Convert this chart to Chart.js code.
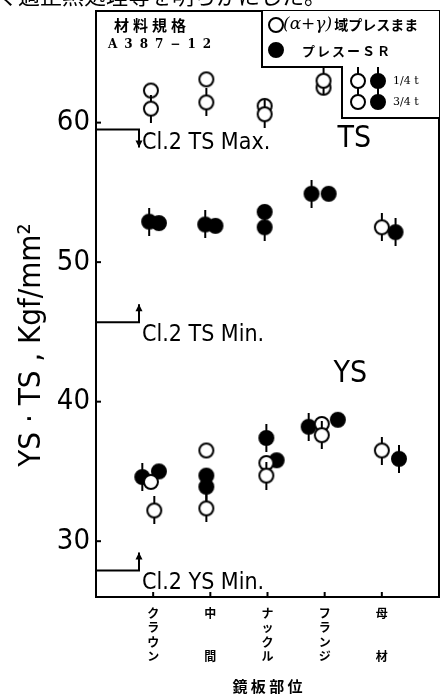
<!DOCTYPE html>
<html><head><meta charset="utf-8">
<script src="https://cdn.jsdelivr.net/npm/chart.js@4.4.0/dist/chart.umd.min.js"></script>
<style>html,body{margin:0;padding:0;background:#fff;}#wrap{width:448px;height:695px;position:relative;}</style>
</head><body><div id="wrap"><canvas id="c" width="448" height="695"></canvas></div>
<script>
// ---- data ----
const categories = ['クラウン', '中間', 'ナックル', 'フランジ', '母材'];
const xTitle = '鏡 板 部 位';
const yTitle = 'YS · TS , Kgf/mm²';
// TS (tensile strength), kgf/mm2, per category
const tsOpenQuarter   = [61.0, 61.45, 60.6, 63.0, 52.5];   // ○ (α+γ) press as-is, 1/4 t
const tsOpenThreeQ    = [62.3, 63.1, 61.2, 62.5, null];    // ○ 3/4 t
const tsFilledQuarter = [52.9, 52.7, 52.5, 54.9, 52.15];   // ● press-SR, 1/4 t
const tsFilledThreeQ  = [52.8, 52.6, 53.6, 54.9, null];    // ● 3/4 t
// YS (yield strength)
const ysOpenQuarter   = [32.2, 32.35, 34.7, 37.6, 36.5];
const ysOpenThreeQ    = [34.25, 36.5, 35.6, 38.4, null];
const ysFilledQuarter = [34.6, 33.9, 37.4, 38.2, 35.9];
const ysFilledThreeQ  = [35.0, 34.7, 35.8, 38.7, null];
// specification limits
const specLabels = ['Cl.2 TS Max.', 'Cl.2 TS Min.', 'Cl.2 YS Min.'];
const specValues = [59.5, 45.7, 27.9];
const legendLabels = ['域プレスまま', 'プレスーＳＲ'];
const legendPrefix = '(α+γ)';
const thicknessLabels = ['1/4 t', '3/4 t'];
const materialLabels = ['材料規格', 'A387−12'];
const groupLabels = ['TS', 'YS'];
const groupAt = [[4.52, 58.8], [4.45, 42.0]];
const pageText = 'く適正熱処理等を明らかにした。';

// horizontal spread of overlapping marks within a category (category units)
const jitter = {
  tsOQ: [-0.04, -0.07, -0.05, -0.02, 0],
  tsO3: [-0.04, -0.07, -0.05, -0.02, 0],
  tsFQ: [-0.07, -0.09, -0.05, -0.23, 0.24],
  tsF3: [0.10, 0.09, -0.05, 0.07, 0],
  ysOQ: [0.02, -0.07, -0.02, -0.05, 0],
  ysO3: [-0.04, -0.07, -0.02, -0.05, 0],
  ysFQ: [-0.19, -0.07, -0.02, -0.28, 0.30],
  ysF3: [0.10, -0.07, 0.16, 0.23, 0]
};

// ---- markers ----
function makeMarker(filled, stem) {
  const r = 7, s = stem ? 5 : 0, lw = 2;
  const c = document.createElement('canvas');
  const w = 2 * r + lw + 2, h = 2 * r + lw + 2 + 2 * s;
  c.width = w; c.height = h;
  const g = c.getContext('2d');
  const cx = w / 2, cy = h / 2;
  if (stem) { g.strokeStyle = '#000'; g.lineWidth = 2; g.beginPath(); g.moveTo(cx, 0); g.lineTo(cx, h); g.stroke(); }
  g.beginPath(); g.arc(cx, cy, r, 0, 2 * Math.PI);
  g.fillStyle = filled ? '#000' : '#fff'; g.fill();
  g.lineWidth = lw; g.strokeStyle = '#000'; g.stroke();
  return c;
}
const M = {
  openStem: makeMarker(false, true), open: makeMarker(false, false),
  filledStem: makeMarker(true, true), filled: makeMarker(true, false)
};

function pts(vals, jit) {
  const out = [];
  vals.forEach((v, i) => { if (v !== null) out.push({ x: i + 1 + jit[i], y: v }); });
  return out;
}
function ds(label, vals, jit, style) {
  return { label, data: pts(vals, jit), pointStyle: style, pointRadius: 8, pointHoverRadius: 8, showLine: false };
}
const datasets = [
  ds('TS ○ 1/4t', tsOpenQuarter, jitter.tsOQ, M.openStem),
  ds('TS ○ 3/4t', tsOpenThreeQ, jitter.tsO3, M.open),
  ds('TS ● 1/4t', tsFilledQuarter, jitter.tsFQ, M.filledStem),
  ds('TS ● 3/4t', tsFilledThreeQ, jitter.tsF3, M.filled),
  ds('YS ○ 1/4t', ysOpenQuarter, jitter.ysOQ, M.openStem),
  ds('YS ○ 3/4t', ysOpenThreeQ, jitter.ysO3, M.open),
  ds('YS ● 1/4t', ysFilledQuarter, jitter.ysFQ, M.filledStem),
  ds('YS ● 3/4t', ysFilledThreeQ, jitter.ysF3, M.filled)
];

function vertical(s) {
  const ch = Array.from(s);
  if (ch.length === 2) return [ch[0], '', '', ch[1]];
  return ch;
}

const COND = '"DejaVu Sans Condensed", "Liberation Sans Narrow", "DejaVu Sans", sans-serif';
const CJK = '"Noto Sans CJK JP", sans-serif';

const deco = {
  id: 'deco',
  beforeDraw(chart) {
    const { ctx } = chart;
    ctx.save(); ctx.fillStyle = '#fff'; ctx.fillRect(0, 0, chart.width, chart.height); ctx.restore();
  },
  afterDraw(chart) {
    const { ctx, chartArea: a, scales: { x, y } } = chart;
    ctx.save();
    ctx.strokeStyle = '#000'; ctx.fillStyle = '#000'; ctx.lineWidth = 2;
    // top & right frame
    ctx.beginPath(); ctx.moveTo(a.left, a.top); ctx.lineTo(a.right, a.top); ctx.lineTo(a.right, a.bottom); ctx.stroke();
    // inner tick marks
    y.ticks.forEach(t => { const py = y.getPixelForValue(t.value); ctx.beginPath(); ctx.moveTo(a.left, py); ctx.lineTo(a.left + 5, py); ctx.stroke(); });
    x.ticks.forEach(t => { if (t.value < 1 || t.value > categories.length) return; const px = x.getPixelForValue(t.value); ctx.beginPath(); ctx.moveTo(px, a.bottom); ctx.lineTo(px, a.bottom - 5); ctx.stroke(); });
    // spec lines
    specValues.forEach((v, i) => {
      const py = y.getPixelForValue(v);
      const ax = a.left + 43;
      const down = i === 0;
      ctx.lineWidth = 2;
      ctx.beginPath(); ctx.moveTo(a.left, py); ctx.lineTo(ax, py);
      const tip = down ? py + 18 : py - 18;
      ctx.lineTo(ax, tip); ctx.stroke();
      ctx.beginPath();
      const d = down ? -1 : 1;
      ctx.moveTo(ax, tip); ctx.lineTo(ax - 3.5, tip + d * 7); ctx.lineTo(ax + 3.5, tip + d * 7); ctx.closePath(); ctx.fill();
      ctx.font = '23px ' + COND; ctx.textAlign = 'left'; ctx.textBaseline = 'alphabetic';
      ctx.fillText(specLabels[i], ax + 3, py + 19);
    });
    // group labels
    ctx.font = '30px ' + COND; ctx.textAlign = 'center'; ctx.textBaseline = 'middle';
    groupLabels.forEach((g, i) => ctx.fillText(g, x.getPixelForValue(groupAt[i][0]), y.getPixelForValue(groupAt[i][1])));
    // y title
    ctx.save(); ctx.translate(32, 345); ctx.rotate(-Math.PI / 2);
    ctx.font = '31px ' + COND; ctx.textAlign = 'center'; ctx.textBaseline = 'middle';
    ctx.fillText(yTitle, 0, 0); ctx.restore();
    // material spec
    ctx.textAlign = 'left'; ctx.textBaseline = 'middle';
    ctx.font = 'bold 15px ' + CJK; ctx.letterSpacing = '4px';
    ctx.fillText(materialLabels[0], a.left + 18, 25);
    ctx.font = 'bold 12px "DejaVu Serif", serif'; ctx.letterSpacing = '7px';
    ctx.fillText(materialLabels[1], a.left + 12, 45);
    ctx.letterSpacing = '0px';
    // legend box
    const L = 262, S = 342, R = a.right, T = a.top;
    ctx.fillStyle = '#fff';
    ctx.fillRect(L, T, R - L, 67 - T); ctx.fillRect(S, 67, R - S, 118 - 67);
    ctx.fillStyle = '#000';
    ctx.beginPath(); ctx.moveTo(L, T); ctx.lineTo(L, 67); ctx.lineTo(S, 67); ctx.lineTo(S, 118); ctx.lineTo(R, 118); ctx.stroke();
    const drawM = (img, cx, cy) => ctx.drawImage(img, cx - img.width / 2, cy - img.height / 2);
    drawM(M.open, 276, 25); drawM(M.filled, 276, 50);
    ctx.font = 'italic 17px "DejaVu Serif", serif'; ctx.textBaseline = 'middle';
    ctx.fillText(legendPrefix, 283, 25);
    const pw = ctx.measureText(legendPrefix).width;
    ctx.font = 'bold 14px ' + CJK;
    ctx.fillText(legendLabels[0], 283 + pw + 2, 25);
    ctx.font = 'bold 13px ' + CJK; ctx.letterSpacing = '2px';
    ctx.fillText(legendLabels[1], 302, 51);
    ctx.letterSpacing = '0px';
    drawM(M.openStem, 358, 81); drawM(M.filledStem, 378, 81);
    drawM(M.open, 358, 102); drawM(M.filled, 378, 102);
    ctx.font = '11px "DejaVu Serif", serif';
    ctx.fillText(thicknessLabels[0], 393, 81);
    ctx.fillText(thicknessLabels[1], 393, 102);
    // clipped running text of the page above
    ctx.font = '22px ' + CJK; ctx.textBaseline = 'alphabetic';
    ctx.fillText(pageText, -4, 4);
    ctx.restore();
  }
};

new Chart(document.getElementById('c'), {
  type: 'scatter',
  data: { datasets },
  options: {
    responsive: false, animation: false, devicePixelRatio: 1,
    layout: { padding: { top: 11, right: 7, left: 0, bottom: 0 } },
    plugins: { legend: { display: false }, tooltip: { enabled: false } },
    scales: {
      x: {
        type: 'linear', min: 0, max: categories.length + 1,
        afterFit(s) { s.height = 98; s.paddingLeft = 0; s.paddingRight = 0; },
        grid: { display: false, drawTicks: false },
        border: { display: true, color: '#000', width: 2 },
        ticks: {
          stepSize: 1, autoSkip: false, maxRotation: 0, includeBounds: false, padding: 9,
          color: '#000', font: { family: 'Noto Sans CJK JP', size: 12, weight: 'bold', lineHeight: 1.2 },
          callback: v => (v >= 1 && v <= categories.length) ? vertical(categories[v - 1]) : ''
        },
        title: { display: true, text: xTitle, color: '#000', padding: { top: 0, bottom: 1 },
          font: { family: 'Noto Sans CJK JP', size: 15, weight: 'bold', lineHeight: 1 } }
      },
      y: {
        min: 26, max: 68,
        afterFit(s) { s.width = 96; s.paddingTop = 0; s.paddingBottom = 0; },
        grid: { display: false, drawTicks: false },
        border: { display: true, color: '#000', width: 2 },
        ticks: { stepSize: 10, includeBounds: false, padding: 6, color: '#000',
          font: { family: 'DejaVu Sans Condensed', size: 29 } }
      }
    }
  },
  plugins: [deco]
});
</script></body></html>
